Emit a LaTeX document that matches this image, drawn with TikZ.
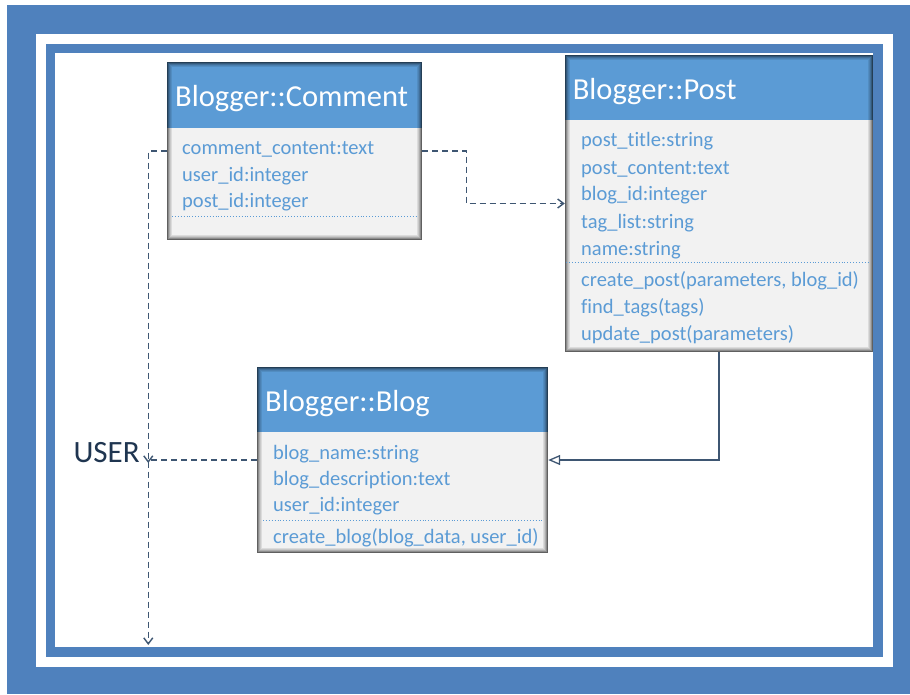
\documentclass[tikz,border=0pt]{standalone}
\usepackage{fontspec}
\setmainfont{Carlito}[Ligatures={NoCommon,NoContextual}]
\usetikzlibrary{arrows.meta}
\definecolor{framebl}{HTML}{4F81BD}
\definecolor{hdrblue}{HTML}{5B9BD5}
\definecolor{txtblue}{HTML}{5B9BD5}
\definecolor{bodygray}{HTML}{F2F2F2}
\definecolor{conncol}{HTML}{3E5672}
\definecolor{usercol}{HTML}{1F3550}
\tikzset{
  classbox/.style={draw=none, fill=bodygray, inner sep=0pt},
  hdrtext/.style={anchor=base west, inner sep=0pt, text=white, font=\fontsize{30.5}{34}\selectfont},
  attr/.style={anchor=base west, inner sep=0pt, text=txtblue, font=\fontsize{20.5}{24}\selectfont},
  sep/.style={draw=txtblue, dotted, line width=0.9pt},
  dep/.style={draw=conncol, line width=1.4pt, dash pattern=on 6pt off 4pt, -{Straight Barb[length=6pt,width=9pt]}},
  gen/.style={draw=conncol, line width=1.3pt, -{Triangle[open, length=12pt, width=10pt, fill=white]}},
  usertext/.style={anchor=base west, inner sep=0pt, text=usercol, font=\fontsize{31}{34}\selectfont}
}
\newcommand{\boxedge}[1]{%
  \foreach \i/\o in {0.5/0.6,1.5/0.42,2.5/0.28,3.5/0.17,4.5/0.09}
    \draw[black, draw opacity=\o, line width=1pt] ([shift={(\i pt,-\i pt)}]#1.north west) rectangle ([shift={(-\i pt,\i pt)}]#1.south east);
}
\begin{document}
\begin{tikzpicture}[x=1pt,y=-1pt]
\useasboundingbox (0,0) rectangle (910,694);
\fill[white] (0,0) rectangle (910,694);
% frame
\fill[framebl] (7,5) rectangle (910,694);
\fill[white] (36,34) rectangle (893,667);
\fill[framebl] (46,44) rectangle (883,657);
\fill[white] (55,53) rectangle (873,647);

% Comment
\node[classbox, minimum width=255pt, minimum height=178pt] (comment) at (294.5,151) {};
\fill[hdrblue] (comment.north west) rectangle ([yshift=-66pt]comment.north east);
\boxedge{comment}
\node[hdrtext] (commentT) at (175,106.7) {Blogger::Comment};
\node[attr] (c1) at (182,154.3) {comment\_content:text};
\node[attr] (c2) at (182,181) {user\_id:integer};
\node[attr] (c3) at (182,207.7) {post\_id:integer};
\draw[sep] (172,216.7) -- (418,216.7);

% Post
\node[classbox, minimum width=308pt, minimum height=297pt] (post) at (719,203.5) {};
\fill[hdrblue] (post.north west) rectangle ([yshift=-65pt]post.north east);
\boxedge{post}
\node[hdrtext] (postT) at (572.7,99.3) {Blogger::Post};
\node[attr] (p1) at (581,146.5) {post\_title:string};
\node[attr] (p2) at (581,174) {post\_content:text};
\node[attr] (p3) at (581,200.7) {blog\_id:integer};
\node[attr] (p4) at (581,228) {tag\_list:string};
\node[attr] (p5) at (581,255) {name:string};
\draw[sep] (566,262) -- (869,262);
\node[attr] (p6) at (581,286.7) {create\_post(parameters, blog\_id)};
\node[attr] (p7) at (581,313) {find\_tags(tags)};
\node[attr] (p8) at (581,340) {update\_post(parameters)};

% Blog
\node[classbox, minimum width=291pt, minimum height=186pt] (blog) at (402.5,460) {};
\fill[hdrblue] (blog.north west) rectangle ([yshift=-65pt]blog.north east);
\boxedge{blog}
\node[hdrtext] (blogT) at (265,411.7) {Blogger::Blog};
\node[attr] (b1) at (273,459) {blog\_name:string};
\node[attr] (b2) at (273,485.7) {blog\_description:text};
\node[attr] (b3) at (273,511.7) {user\_id:integer};
\draw[sep] (263,520) -- (543,520);
\node[attr] (b4) at (273,543.3) {create\_blog(blog\_data, user\_id)};

% USER
\node[usertext] (user) at (73.3,462.7) {USER};

% connectors
\coordinate (bendx) at (466.5,0);
\coordinate (useratt) at (148.3,463);
\coordinate (bottomend) at (148.3,645);
\draw[dep] (comment.east) -- (comment.east -| bendx) -- (post.west -| bendx) -- (post.west);
\draw[dep] (comment.west) -| (useratt);
\draw[dep] (blog.west) -| (bottomend);
\draw[gen] (post.south) |- (blog.east);
\end{tikzpicture}
\end{document}
